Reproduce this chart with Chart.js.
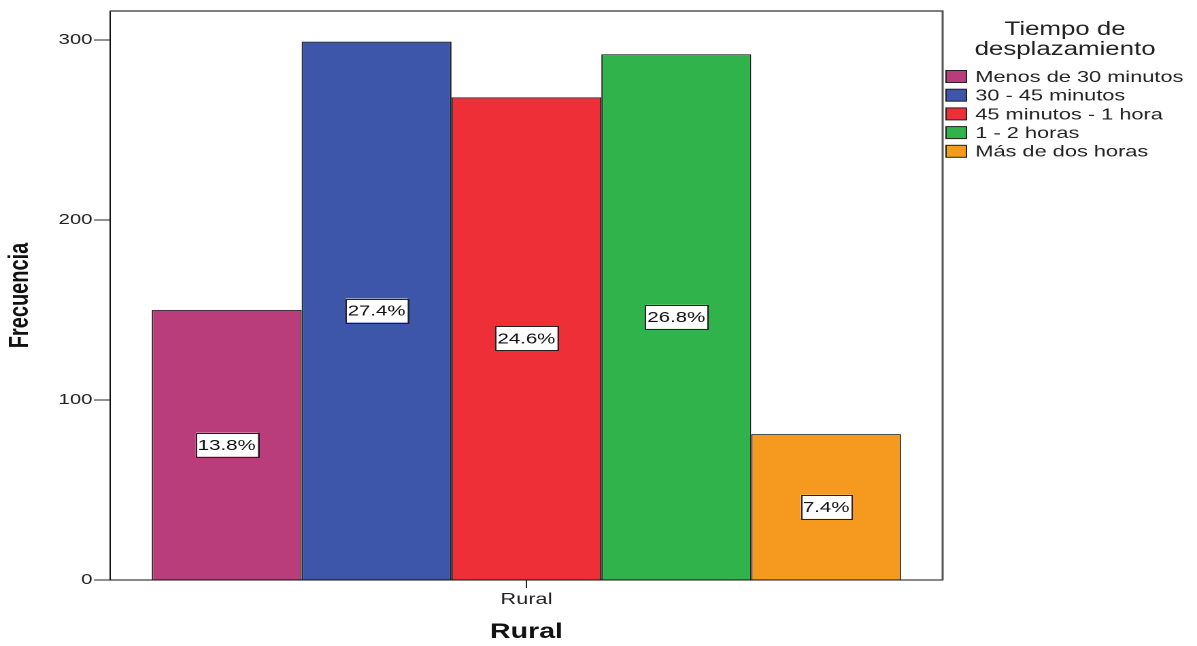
<!DOCTYPE html>
<html>
<head>
<meta charset="utf-8">
<script src="https://cdn.jsdelivr.net/npm/chart.js@4.4.1/dist/chart.umd.min.js"></script>
<style>
  html, body { margin: 0; padding: 0; background: #fff; overflow: hidden; }
  #chart { display: block; }
</style>
</head>
<body>
<!-- drawn at 880 px wide and widened to the page width -->
<canvas id="chart" width="880" height="646" style="width:1197px;height:646px"></canvas>
<script>
const categories = ['Rural'];
const seriesNames = ['Menos de 30 minutos', '30 - 45 minutos', '45 minutos - 1 hora', '1 - 2 horas', 'Más de dos horas'];
const frequencies = [150, 299, 268, 292, 81];
const seriesColors = ['#b93c7b', '#3d56a9', '#ee2f37', '#31b34b', '#f5991f'];
const yTickValues = [0, 100, 200, 300];
const legendTitle = ['Tiempo de', 'desplazamiento'];

const FONT = '"Liberation Sans", Arial, Helvetica, sans-serif';
const total = frequencies.reduce((a, b) => a + b, 0);
const percentText = v => (v / total * 100).toFixed(1) + '%';

// top and right edges of the plot frame
const framePlugin = {
  id: 'frame',
  afterDraw(chart) {
    const { ctx, chartArea: a } = chart;
    ctx.save();
    ctx.strokeStyle = '#555';
    ctx.lineWidth = 1.5;
    ctx.beginPath();
    ctx.moveTo(a.left, a.top);
    ctx.lineTo(a.right, a.top);
    ctx.lineTo(a.right, a.bottom);
    ctx.stroke();
    ctx.restore();
  }
};

// percentage boxes in the middle of each bar
const percentLabels = {
  id: 'percentLabels',
  afterDatasetsDraw(chart) {
    const { ctx } = chart;
    ctx.save();
    ctx.font = '15px ' + FONT;
    ctx.textAlign = 'center';
    ctx.textBaseline = 'middle';
    chart.data.datasets.forEach((ds, i) => {
      const bar = chart.getDatasetMeta(i).data[0];
      if (!bar) return;
      const cx = bar.x;
      const cy = (bar.y + bar.base) / 2;
      const txt = percentText(ds.data[0]);
      const w = ctx.measureText(txt).width + 3;
      const h = 24;
      ctx.fillStyle = '#fff';
      ctx.fillRect(cx - w / 2, cy - h / 2, w, h);
      ctx.strokeStyle = '#222';
      ctx.lineWidth = 1;
      ctx.strokeRect(Math.round(cx - w / 2) + 0.5, Math.round(cy - h / 2) + 0.5, Math.round(w), h);
      ctx.fillStyle = '#111';
      ctx.fillText(txt, cx, cy + 1);
    });
    ctx.restore();
  }
};

// legend at the right of the plot
const sideLegend = {
  id: 'sideLegend',
  afterDraw(chart) {
    const { ctx } = chart;
    const x0 = 695.5;
    ctx.save();
    ctx.fillStyle = '#222';
    ctx.textAlign = 'center';
    ctx.textBaseline = 'middle';
    ctx.font = '19px ' + FONT;
    legendTitle.forEach((line, k) => ctx.fillText(line, 783, 30 + k * 20));
    ctx.textAlign = 'left';
    ctx.font = '16px ' + FONT;
    chart.data.datasets.forEach((ds, i) => {
      const yc = 76.5 + i * 18.7;
      ctx.fillStyle = ds.backgroundColor;
      ctx.fillRect(x0, yc - 6, 15, 12);
      ctx.strokeStyle = '#222';
      ctx.lineWidth = 1;
      ctx.strokeRect(x0, yc - 6, 15, 12);
      ctx.fillStyle = '#222';
      ctx.fillText(ds.label, 717, yc + 1);
    });
    ctx.restore();
  }
};

new Chart(document.getElementById('chart'), {
  type: 'bar',
  data: {
    labels: categories,
    datasets: seriesNames.map((name, i) => ({
      label: name,
      data: [frequencies[i]],
      backgroundColor: seriesColors[i],
      borderColor: '#1e1e1e',
      borderWidth: 1
    }))
  },
  options: {
    responsive: false,
    devicePixelRatio: 2,
    animation: false,
    layout: { padding: { left: 0, right: 187, top: 11, bottom: 0 } },
    datasets: { bar: { categoryPercentage: 0.9, barPercentage: 1.0 } },
    plugins: { legend: { display: false }, tooltip: { enabled: false } },
    scales: {
      x: {
        afterFit: s => { s.height = 66; },
        grid: { offset: false, drawOnChartArea: false, drawTicks: true, tickLength: 8, tickColor: '#222' },
        border: { display: true, color: '#111', width: 1 },
        ticks: { padding: 2, color: '#222', font: { family: FONT, size: 16 } },
        title: { display: true, text: 'Rural', color: '#111', font: { family: FONT, size: 21, weight: 'bold' }, padding: { top: 0, bottom: 1 } }
      },
      y: {
        min: 0,
        max: 316,
        afterBuildTicks: s => { s.ticks = yTickValues.map(v => ({ value: v })); },
        afterFit: s => { s.width = 81; },
        grid: { drawOnChartArea: false, drawTicks: true, tickLength: 12, tickColor: '#222' },
        border: { display: true, color: '#111', width: 1 },
        ticks: { padding: 1, color: '#222', font: { family: FONT, size: 15 } },
        title: { display: true, text: 'Frecuencia', color: '#111', font: { family: FONT, size: 20, weight: 'bold' }, padding: { top: 3, bottom: 0 } }
      }
    }
  },
  plugins: [framePlugin, percentLabels, sideLegend]
});
</script>
</body>
</html>
